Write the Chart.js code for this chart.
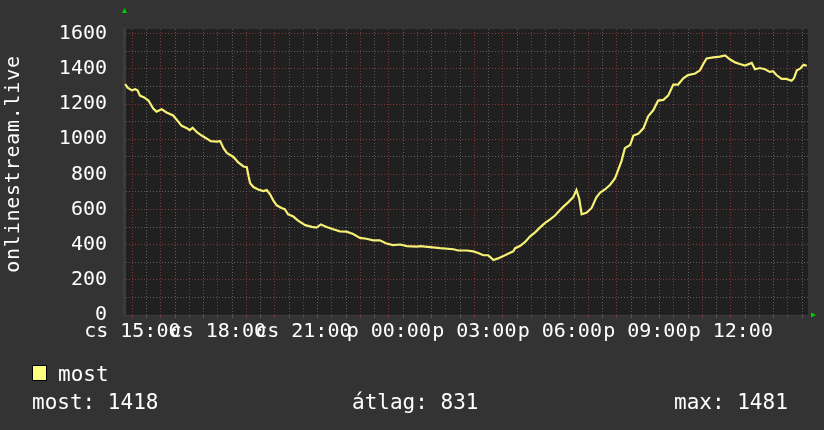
<!DOCTYPE html>
<html lang="hu">
<head>
<meta charset="UTF-8">
<title>onlinestream.live</title>
<script src="https://cdn.jsdelivr.net/npm/chart.js"></script>
<style>
    body {
        margin: 0;
        background: #333333;
    }
    canvas {
        display: block;
    }
</style>
</head>
<body>
<canvas id="grafica" width="824" height="430"></canvas>

<script>
    // perc 15:00-tol szamolva (cs 15:00 = 0)
    const minutes = [-15, -10, -1, 6, 11, 16, 25, 34, 44, 51,
        62, 72, 86, 93, 104, 115, 121, 127, 136, 146,
        157, 165, 178, 185, 192, 199, 213, 223, 234, 241,
        245, 248, 255, 265, 276, 283, 290, 297, 304, 314,
        321, 328, 339, 349, 364, 378, 388, 397, 409, 423,
        437, 451, 465, 479, 493, 507, 521, 535, 549, 564,
        578, 599, 606, 627, 648, 676, 686, 704, 718, 728,
        739, 749, 753, 760, 770, 781, 791, 802, 806, 816,
        827, 837, 848, 858, 869, 879, 890, 897, 907, 918,
        928, 935, 941, 946, 956, 967, 977, 985, 995, 1006,
        1016, 1020, 1030, 1037, 1048, 1055, 1065, 1076, 1086, 1097, 1107,
        1118, 1128, 1139, 1149, 1160, 1170, 1185, 1195, 1202, 1209,
        1223, 1237, 1248, 1258, 1269, 1279, 1290, 1304, 1311, 1321,
        1332, 1342, 1349, 1356, 1367, 1377, 1388, 1393, 1399, 1406,
        1413, 1420];

    const most = [1314, 1293, 1278, 1284, 1278, 1248, 1238, 1220, 1175, 1157,
        1170, 1152, 1135, 1112, 1076, 1062, 1052, 1065, 1040, 1021,
        1003, 989, 986, 989, 949, 922, 899, 868, 845, 841,
        786, 750, 728, 714, 705, 711, 687, 651, 624, 609,
        602, 573, 560, 537, 511, 501, 497, 515, 501, 488,
        476, 474, 461, 439, 434, 425, 425, 407, 398, 401,
        392, 389, 392, 386, 380, 374, 367, 367, 362, 353,
        340, 340, 331, 313, 322, 335, 349, 362, 380, 392,
        416, 446, 470, 497, 524, 542, 566, 587, 615, 642,
        669, 711, 660, 573, 582, 609, 669, 696, 714, 741,
        777, 804, 877, 949, 967, 1021, 1031, 1062, 1130, 1166, 1220,
        1224, 1248, 1311, 1311, 1347, 1365, 1374, 1392, 1428, 1459,
        1466, 1470, 1477, 1455, 1437, 1428, 1419, 1434, 1398, 1405,
        1398, 1383, 1387, 1365, 1343, 1343, 1333, 1347, 1392, 1401,
        1423, 1418];

    const xTickMinutes = [0, 180, 360, 540, 720, 900, 1080, 1260];
    const xTickLabels = ['cs 15:00', 'cs 18:00', 'cs 21:00', 'p 00:00', 'p 03:00', 'p 06:00', 'p 09:00', 'p 12:00'];
    const yTicks = [0, 200, 400, 600, 800, 1000, 1200, 1400, 1600];

    const legendLabel = 'most';
    const stats = ['most: 1418', 'átlag: 831', 'max: 1481'];
    const axisTitle = 'onlinestream.live';

    const FONT = "'DejaVu Sans Mono', monospace";
    const piros = 'rgba(150, 58, 58, 0.85)';
    const szurke = 'rgba(105, 105, 105, 0.85)';

    const fondo = {
        id: 'fondo',
        beforeDraw(chart) {
            const { ctx, chartArea: a } = chart;
            ctx.save();
            ctx.fillStyle = '#333333';
            ctx.fillRect(0, 0, chart.width, chart.height);
            ctx.fillStyle = '#202020';
            ctx.fillRect(a.left, a.top, a.right - a.left, a.bottom - a.top);
            ctx.restore();
        },
        afterDraw(chart) {
            const { ctx, chartArea: a } = chart;
            ctx.save();
            // zold nyilak
            ctx.fillStyle = '#00cc00';
            ctx.beginPath();
            ctx.moveTo(a.left - 2, 13);
            ctx.lineTo(a.left + 3, 13);
            ctx.lineTo(a.left + 0.5, 8);
            ctx.fill();
            ctx.beginPath();
            ctx.moveTo(a.right + 3, a.bottom - 2.5);
            ctx.lineTo(a.right + 3, a.bottom + 2.5);
            ctx.lineTo(a.right + 8, a.bottom);
            ctx.fill();

            // fuggoleges cim
            ctx.fillStyle = '#ffffff';
            ctx.font = '20px ' + FONT;
            ctx.letterSpacing = '0.75px';
            ctx.translate(19, 164);
            ctx.rotate(-Math.PI / 2);
            ctx.textAlign = 'center';
            ctx.textBaseline = 'alphabetic';
            ctx.fillText(axisTitle, 0, 0);
            ctx.setTransform(1, 0, 0, 1, 0, 0);

            // jelmagyarazat
            ctx.fillStyle = '#ffff80';
            ctx.fillRect(32, 365, 15, 16);
            ctx.strokeStyle = '#000000';
            ctx.lineWidth = 1;
            ctx.strokeRect(32.5, 365.5, 14, 15);
            ctx.fillStyle = '#ffffff';
            ctx.font = '21px ' + FONT;
            ctx.letterSpacing = '0px';
            ctx.textAlign = 'left';
            ctx.fillText(legendLabel, 58, 381);
            ctx.fillText(stats[0], 32, 409);
            ctx.fillText(stats[1], 352, 409);
            ctx.fillText(stats[2], 674, 409);
            ctx.restore();
        }
    };

    const ctx = document.getElementById('grafica').getContext('2d');
    const myChart = new Chart(ctx, {
        type: 'line',
        data: {
            datasets: [{
                label: legendLabel,
                data: minutes.map((m, i) => ({ x: m, y: most[i] })),
                borderColor: '#f6f175',
                borderWidth: 2.2,
                pointRadius: 0,
                tension: 0,
                fill: false
            }]
        },
        options: {
            responsive: false,
            animation: false,
            layout: { padding: { left: 0, top: 15, right: 16, bottom: 0 } },
            plugins: {
                legend: { display: false },
                tooltip: { enabled: false }
            },
            scales: {
                x: {
                    type: 'linear',
                    min: -17.5,
                    max: 1422.5,
                    afterBuildTicks(scale) {
                        const t = [];
                        for (let m = 0; m <= 1410; m += 30) t.push({ value: m });
                        scale.ticks = t;
                    },
                    afterFit(scale) { scale.height = 115; },
                    grid: {
                        color: c => (c.tick && c.tick.value % 60 === 0) ? piros : szurke,
                        tickLength: 3,
                        tickColor: c => (c.tick && c.tick.value % 60 === 0) ? piros : szurke
                    },
                    border: { display: true, color: '#3c3c3c', width: 1, dash: [1, 2] },
                    ticks: {
                        autoSkip: false,
                        maxRotation: 0,
                        padding: 2,
                        color: '#ffffff',
                        font: { family: FONT, size: 20 },
                        callback: v => {
                            const i = xTickMinutes.indexOf(v);
                            return i >= 0 ? xTickLabels[i] : '';
                        }
                    }
                },
                y: {
                    min: 0,
                    max: 1627,
                    afterBuildTicks(scale) {
                        const t = [];
                        for (let v = 0; v <= 1600; v += 100) t.push({ value: v });
                        scale.ticks = t;
                    },
                    afterFit(scale) { scale.width = 124; },
                    grid: {
                        color: c => (c.tick && c.tick.value % 200 === 0) ? piros : szurke,
                        drawTicks: false
                    },
                    border: { display: true, color: '#3c3c3c', width: 3, dash: [1, 2] },
                    ticks: {
                        autoSkip: false,
                        padding: 17,
                        color: '#ffffff',
                        font: { family: FONT, size: 20 },
                        callback: v => yTicks.includes(v) ? String(v) : ''
                    }
                }
            }
        },
        plugins: [fondo]
    });
</script>
</body>
</html>
